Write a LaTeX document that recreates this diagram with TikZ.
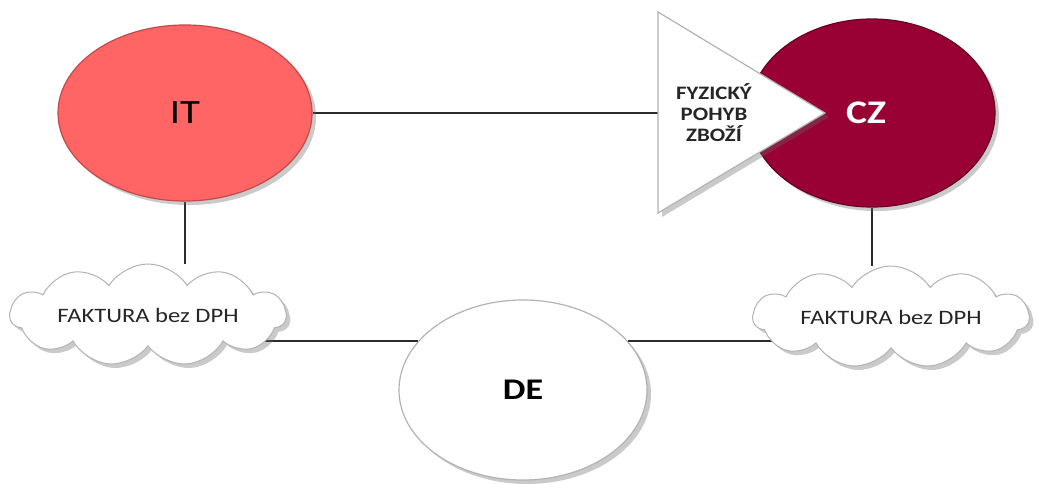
\documentclass[tikz,border=0pt]{standalone}
\usepackage{fontspec}
\setmainfont{Carlito}
\usetikzlibrary{shapes.geometric,shapes.symbols,shadows,backgrounds}
\definecolor{itfill}{HTML}{FF6565}
\definecolor{itedge}{HTML}{C24A4A}
\definecolor{czfill}{HTML}{990033}
\definecolor{czedge}{HTML}{66001F}
\definecolor{greyedge}{HTML}{B3B3B3}
\definecolor{linkcol}{HTML}{2B2B2B}
\newcommand\wide[1]{\scalebox{1.2}[1]{#1}}
\tikzset{
  softshadow/.style={drop shadow={shadow xshift=4pt, shadow yshift=-4pt, opacity=0.35, fill=black!60}},
  country/.style={ellipse, inner sep=0pt, minimum width=254pt, minimum height=176pt, line width=1.2pt, softshadow},
  invoice/.style={cloud, cloud puffs=11, cloud puff arc=115, cloud ignores aspect, inner sep=0pt,
    minimum width=276pt, minimum height=102pt, draw=greyedge, fill=white, line width=1pt, softshadow,
    font=\fontsize{20.5}{25}\selectfont, text=black!85},
  link/.style={draw=linkcol, line width=2pt},
}
\begin{document}
\begin{tikzpicture}[x=1pt, y=-1pt]
\useasboundingbox (0,0) rectangle (1038,484);
% partner countries
\node[country, fill=itfill, draw=itedge, font=\fontsize{34}{40}\selectfont] (IT) at (185,113) {\wide{IT}};
\node[country, fill=czfill, draw=czedge, minimum width=246pt, minimum height=188pt,
      font=\bfseries\fontsize{33}{40}\selectfont, text=white] (CZ) at (872,113) {\hspace*{-12pt}\wide{CZ}};
\node[country, fill=white, draw=greyedge, minimum width=248pt, minimum height=180pt,
      font=\bfseries\fontsize{30}{36}\selectfont] (DE) at (523,390) {\wide{DE}};
% goods flow arrow head
\coordinate (triTop) at (658,12);
\coordinate (triTip) at (825,113);
\coordinate (triBot) at (658,213);
\coordinate (triW) at (658,113);
\path[fill=white, draw=greyedge, line width=1.2pt, line join=miter, softshadow]
  (triTop) -- (triTip) -- (triBot) -- cycle;
\node[align=center, font=\bfseries\fontsize{19}{21}\selectfont, text=black!85] (pohyb) at (714,113)
  {\wide{FYZICKÝ}\\\wide{POHYB}\\\wide{ZBOŽÍ}};
% invoices
\node[invoice] (fakL) at (148,315) {\wide{FAKTURA bez DPH}};
\node[invoice] (fakR) at (891,317) {\wide{FAKTURA bez DPH}};
% connections, kept under the shapes so the fills hide their ends
\begin{scope}[on background layer]
  \draw[link] (IT.east) -- (triW);
  \draw[link] (IT.south) -- (IT.south |- fakL.north);
  \draw[link] (CZ.south) -- (CZ.south |- fakR.north);
  \draw[link] (DE.155) -- (DE.155 -| fakL.center);
  \draw[link] (DE.25) -- (DE.25 -| fakR.center);
\end{scope}
\end{tikzpicture}
\end{document}
